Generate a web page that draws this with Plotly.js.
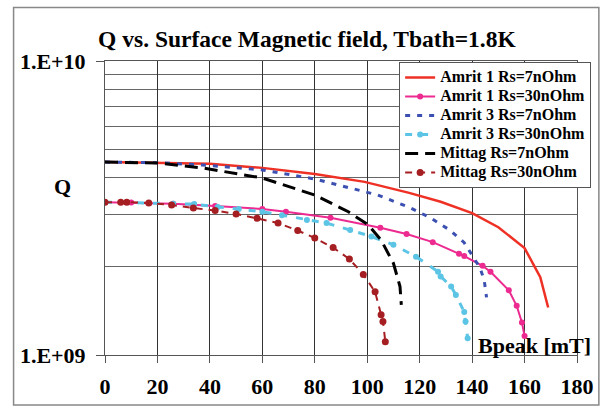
<!DOCTYPE html>
<html><head><meta charset="utf-8">
<script src="https://cdn.plot.ly/plotly-3.0.1.min.js"></script>
<style>body{margin:0;background:#fff}#c{width:603px;height:407px}</style>
</head><body><div id="c"></div>
<script>
// Amrit 1 Rs=7nOhm
const a1_7_x = [0, 20, 40, 60, 80, 99, 104, 116, 128, 140, 150, 160, 166, 169];
const a1_7_y = [4.53e9, 4.51e9, 4.47e9, 4.33e9, 4.13e9, 3.88e9, 3.78e9, 3.56e9, 3.32e9, 3.04e9, 2.72e9, 2.31e9, 1.84e9, 1.45e9];
// Amrit 1 Rs=30nOhm
const a1_30_x = [0, 10, 26, 42, 60, 69, 86, 105, 115, 125, 135, 137, 144, 147, 154, 157, 159, 160];
const a1_30_y = [3.31e9, 3.30e9, 3.27e9, 3.21e9, 3.14e9, 3.07e9, 2.93e9, 2.71e9, 2.58e9, 2.42e9, 2.21e9, 2.17e9, 2.01e9, 1.92e9, 1.66e9, 1.47e9, 1.29e9, 1.16e9];
// Amrit 3 Rs=7nOhm
const a3_7_x = [0, 20, 37, 60, 80, 99, 104, 116, 124, 131.5, 137, 139.5, 143, 144.6, 145.5];
const a3_7_y = [4.53e9, 4.51e9, 4.43e9, 4.26e9, 3.97e9, 3.59e9, 3.50e9, 3.18e9, 2.93e9, 2.66e9, 2.41e9, 2.22e9, 1.98e9, 1.80e9, 1.57e9];
// Amrit 3 Rs=30nOhm
const a3_30_x = [0, 26, 34, 43, 51, 60, 67.5, 77, 84.5, 93.5, 101.6, 110, 118.6, 127, 128, 132, 133.8, 137, 137.5, 138.3];
const a3_30_y = [3.31e9, 3.27e9, 3.26e9, 3.19e9, 3.14e9, 3.07e9, 2.99e9, 2.88e9, 2.81e9, 2.66e9, 2.53e9, 2.37e9, 2.16e9, 1.92e9, 1.85e9, 1.71e9, 1.60e9, 1.40e9, 1.30e9, 1.14e9];
// Mittag Rs=7nOhm
const m7_x = [0, 19.7, 37, 60, 80, 92.8, 100.4, 105.3, 110, 112.5, 113];
const m7_y = [4.53e9, 4.50e9, 4.33e9, 4.00e9, 3.50e9, 3.07e9, 2.77e9, 2.46e9, 2.05e9, 1.71e9, 1.48e9];
// Mittag Rs=30nOhm
const m30_x = [0, 6, 8.3, 16.7, 25.4, 33.7, 42, 50, 58, 66, 73.5, 80, 87, 93.2, 98.5, 103, 105.3, 106, 106.9];
const m30_y = [3.31e9, 3.31e9, 3.31e9, 3.29e9, 3.24e9, 3.16e9, 3.10e9, 3.02e9, 2.92e9, 2.81e9, 2.65e9, 2.50e9, 2.32e9, 2.12e9, 1.88e9, 1.64e9, 1.37e9, 1.30e9, 1.11e9];

const names = ["Amrit 1 Rs=7nOhm", "Amrit 1 Rs=30nOhm", "Amrit 3 Rs=7nOhm", "Amrit 3 Rs=30nOhm", "Mittag Rs=7nOhm", "Mittag Rs=30nOhm"];
const xTicks = [0, 20, 40, 60, 80, 100, 120, 140, 160, 180];
const yMajor = [1e9, 1e10];
const yMajorText = ["1.E+09", "1.E+10"];
const yMinor = [2e9, 3e9, 4e9, 5e9, 6e9, 7e9, 8e9, 9e9];

const lg = n => '<span style="font-size:16px">' + n + '</span>';

const data = [
  {x: a1_7_x, y: a1_7_y, name: lg(names[0]), mode: 'lines', line: {color: '#ee3124', width: 2.5}},
  {x: a1_30_x, y: a1_30_y, name: lg(names[1]), mode: 'lines+markers', line: {color: '#ec2a90', width: 2}, marker: {size: 6, color: '#ec2a90'}},
  {x: a3_7_x, y: a3_7_y, name: lg(names[2]), mode: 'lines', line: {color: '#3b50b0', width: 3, dash: '5px,7px'}},
  {x: a3_30_x, y: a3_30_y, name: lg(names[3]), mode: 'lines+markers', line: {color: '#5cc4e4', width: 3, dash: '7px,9px'}, marker: {size: 6, color: '#5cc4e4'}},
  {x: m7_x, y: m7_y, name: lg(names[4]), mode: 'lines', line: {color: '#000000', width: 3, dash: '13px,7px'}},
  {x: m30_x, y: m30_y, name: lg(names[5]), mode: 'lines+markers', line: {color: '#a51e22', width: 2, dash: '7px,6px'}, marker: {size: 7, color: '#a51e22'}}
];

const font = {family: 'Liberation Serif', color: '#000', weight: 'bold'};
const f = s => Object.assign({}, font, {size: s});

const layout = {
  width: 603, height: 407,
  margin: {l: 105, r: 23, t: 61, b: 52},
  paper_bgcolor: '#fff', plot_bgcolor: '#fff',
  showlegend: true,
  title: {text: 'Q vs. Surface Magnetic field, Tbath=1.8K', font: f(23.5), x: 0.509, xanchor: 'center', y: 0.905, yanchor: 'middle'},
  xaxis: {range: [0, 180], tickvals: xTicks, ticktext: xTicks.map(String), ticks: 'outside', ticklen: 7, tickcolor: '#555',
          showgrid: true, gridcolor: '#333', gridwidth: 1, showline: true, linecolor: '#555', mirror: true, zeroline: false,
          tickfont: f(22), ticklabelstandoff: 5},
  yaxis: {type: 'log', range: [9, 10], tickvals: yMajor, ticktext: yMajorText, ticks: 'outside', ticklen: 8, tickcolor: '#555',
          showgrid: true, gridcolor: '#444', showline: true, linecolor: '#555', mirror: true, zeroline: false,
          tickfont: f(22), ticklabelstandoff: 6,
          minor: {tickvals: yMinor, showgrid: true, gridcolor: '#666', gridwidth: 1, ticks: ''}},
  legend: {x: (401 - 105) / 475, y: (355 - 62) / 294, xanchor: 'left', yanchor: 'top', bgcolor: '#fff', bordercolor: '#555', borderwidth: 1,
           font: f(12.2), tracegroupgap: 0},
  annotations: [
    {text: 'Q', xref: 'paper', yref: 'paper', x: (62 - 105) / 475, y: (355 - 186) / 294, xanchor: 'center', yanchor: 'middle', showarrow: false, font: f(22)},
    {text: 'Bpeak [mT]', xref: 'paper', yref: 'paper', x: (537.5 - 105) / 475, y: (355 - 345) / 294, xanchor: 'center', yanchor: 'middle', showarrow: false, font: f(22)}
  ],
  shapes: [
    {type: 'rect', xref: 'paper', yref: 'paper', x0: (13 - 105) / 475, x1: (602 - 105) / 475, y0: (355 - 405) / 294, y1: (355 - 7.5) / 294,
     line: {color: '#888', width: 1.5}, layer: 'below'}
  ]
};

Plotly.newPlot('c', data, layout, {displayModeBar: false, staticPlot: true});
</script>
</body></html>
